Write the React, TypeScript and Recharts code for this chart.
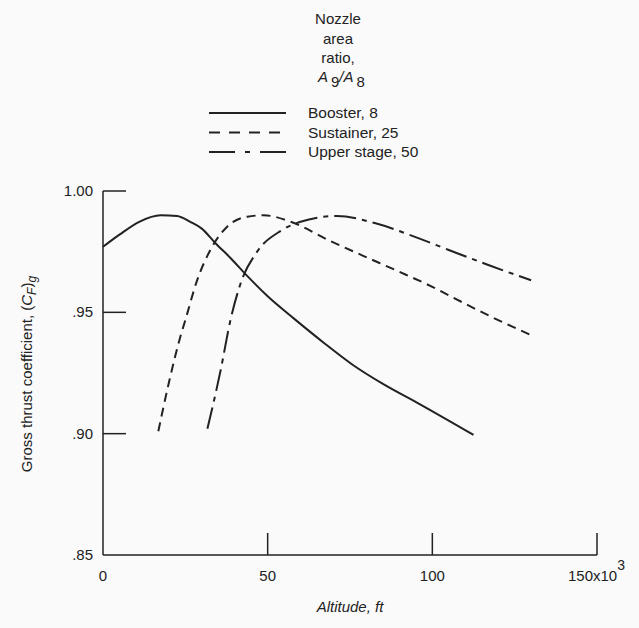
import { LineChart, Line, XAxis, YAxis } from "recharts";

const boosterAlt = [0, 5, 11, 17.5, 22.5, 26.5, 30, 34, 39, 44, 50, 58, 67, 76, 85, 96, 112.5];
const boosterCf = [0.977, 0.982, 0.9873, 0.99, 0.9897, 0.9873, 0.9845, 0.9787, 0.972, 0.9647, 0.9566, 0.9474, 0.9375, 0.9282, 0.9205, 0.9123, 0.8995];

const sustainerAlt = [16.8, 20, 23.5, 25, 28.6, 32.6, 37.7, 43.8, 48.8, 57, 69, 79, 89.5, 100, 110, 120, 130];
const sustainerCf = [0.901, 0.921, 0.94, 0.9468, 0.9633, 0.9757, 0.9853, 0.9894, 0.99, 0.9873, 0.9794, 0.9733, 0.967, 0.9605, 0.9535, 0.9468, 0.9406];

const upperAlt = [31.7, 35.7, 38.7, 41.8, 46.8, 54, 60, 71, 82.5, 94.5, 105, 117, 130];
const upperCf = [0.902, 0.926, 0.9468, 0.962, 0.975, 0.9836, 0.9873, 0.9897, 0.9868, 0.9812, 0.9757, 0.9695, 0.9632];

const xTicks = [0, 50, 100, 150];
const yTicks = [0.85, 0.9, 0.95, 1.0];
const yTickLabels = [".85", ".90", ".95", "1.00"];

const titleLines = ["Nozzle", "area", "ratio,"];
const seriesNames = ["Booster, 8", "Sustainer, 25", "Upper stage, 50"];
const seriesDash = ["", "9 6", "22 6 5 6"];
const legendDash = ["", "11 9", "26 10 5 10"];

const toPoints = (alt: number[], cf: number[]) =>
  alt.map((a, i) => ({ alt: a, cf: cf[i] }));

const series = [
  toPoints(boosterAlt, boosterCf),
  toPoints(sustainerAlt, sustainerCf),
  toPoints(upperAlt, upperCf),
];

const FONT = "'Liberation Sans', Arial, sans-serif";
const INK = "#222";

const XTick = (props: any) => {
  const { x, y, payload } = props;
  const v = payload.value;
  return (
    <g>
      {v !== 0 && <line x1={x} y1={y} x2={x} y2={y - 22} stroke={INK} strokeWidth={1.5} />}
      {v === 150 ? (
        <text x={x - 29} y={y + 26} fontSize={15} fontFamily={FONT} fill={INK}>
          150x10
          <tspan dy={-11} fontSize={14}>3</tspan>
        </text>
      ) : (
        <text x={x} y={y + 26} fontSize={15} fontFamily={FONT} fill={INK} textAnchor="middle">
          {v}
        </text>
      )}
    </g>
  );
};

const YTick = (props: any) => {
  const { x, y, payload, index } = props;
  return (
    <g>
      {payload.value !== 0.85 && (
        <line x1={x} y1={y} x2={x + 23} y2={y} stroke={INK} strokeWidth={1.5} />
      )}
      <text x={x - 10} y={y + 5} fontSize={15} fontFamily={FONT} fill={INK} textAnchor="end">
        {yTickLabels[index]}
      </text>
    </g>
  );
};

const App = () => {
  return (
    <div style={{ position: "absolute", left: 0, top: 0, background: "#fafafa" }}>
      <LineChart
        width={639}
        height={628}
        margin={{ top: 191, right: 42, left: 43, bottom: 43 }}
      >
        <XAxis
          type="number"
          dataKey="alt"
          domain={[0, 150]}
          ticks={xTicks}
          tick={<XTick />}
          tickSize={0}
          tickMargin={0}
          axisLine={{ stroke: INK, strokeWidth: 1.5 }}
          allowDuplicatedCategory={false}
          height={30}
        />
        <YAxis
          type="number"
          dataKey="cf"
          domain={[0.85, 1.0]}
          ticks={yTicks}
          tick={<YTick />}
          tickSize={0}
          tickMargin={0}
          axisLine={{ stroke: INK, strokeWidth: 1.5 }}
          width={60}
        />
        {series.map((pts, i) => (
          <Line
            key={seriesNames[i]}
            data={pts}
            dataKey="cf"
            type="monotone"
            stroke={INK}
            strokeWidth={2}
            strokeDasharray={seriesDash[i] || undefined}
            dot={false}
            activeDot={false}
            isAnimationActive={false}
          />
        ))}
        <g fontFamily={FONT} fill={INK}>
          {titleLines.map((t, i) => (
            <text key={t} x={338} y={24 + i * 19.5} fontSize={15} textAnchor="middle">
              {t}
            </text>
          ))}
          <text x={318} y={82} fontSize={15}>
            <tspan fontStyle="italic">A</tspan>
            <tspan dx={3} dy={5}>9</tspan>
            <tspan dy={-5} fontStyle="italic">/A</tspan>
            <tspan dx={3} dy={5}>8</tspan>
          </text>
          {seriesNames.map((n, i) => (
            <g key={n}>
              <line
                x1={209}
                x2={286}
                y1={113 + i * 19.5}
                y2={113 + i * 19.5}
                stroke={INK}
                strokeWidth={2}
                strokeDasharray={legendDash[i] || undefined}
              />
              <text x={308} y={118 + i * 19.5} fontSize={15.5}>
                {n}
              </text>
            </g>
          ))}
          <text
            x={32}
            y={374}
            fontSize={15}
            textAnchor="middle"
            transform="rotate(-90 32 374)"
          >
            Gross thrust coefficient, (<tspan fontStyle="italic">C</tspan>
            <tspan dy={4} fontSize={12} fontStyle="italic">F</tspan>
            <tspan dy={-4}>)</tspan>
            <tspan dy={4} fontSize={12} fontStyle="italic">g</tspan>
          </text>
          <text x={350} y={612} fontSize={15} fontStyle="italic" textAnchor="middle">
            Altitude, ft
          </text>
        </g>
      </LineChart>
    </div>
  );
};

export default App;
